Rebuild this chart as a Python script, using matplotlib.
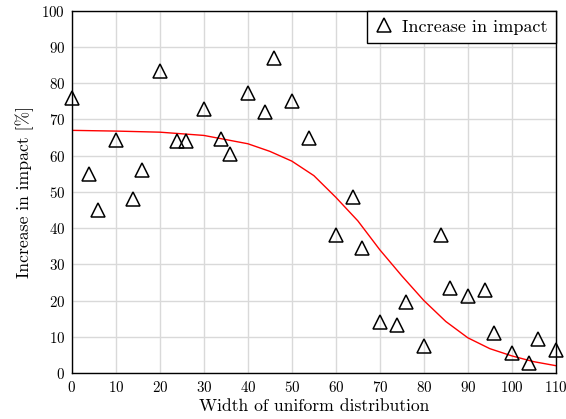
import numpy as np
import matplotlib.pyplot as plt

plt.rcParams['font.family'] = 'serif'
plt.rcParams['font.serif'] = ['cmr10']
plt.rcParams['mathtext.fontset'] = 'cm'
plt.rcParams['axes.formatter.use_mathtext'] = True

# Measured points
width = [0, 4, 6, 10, 14, 16, 20, 24, 26, 30, 34, 36, 40, 44, 46, 50, 54,
         60, 64, 66, 70, 74, 76, 80, 84, 86, 90, 94, 96, 100, 104, 106, 110]
increase = [76, 55, 45, 64.4, 48, 56, 83.4, 64, 64, 73, 64.6, 60.5, 77.3, 72, 87, 75, 65,
            38, 48.6, 34.5, 14, 13.3, 19.6, 7.5, 38, 23.5, 21.3, 23, 11, 5.5, 2.8, 9.4, 6.4]

# Fitted curve
fit_x = [0, 10, 20, 30, 40, 45, 50, 55, 60, 65, 70, 75, 80, 85, 90, 95, 100, 105, 110]
fit_y = [67, 66.8, 66.5, 65.6, 63.3, 61.2, 58.5, 54.5, 48.5, 42, 34, 26.8, 20, 14.2, 9.7, 6.7, 4.7, 3.1, 2]

fig = plt.figure(figsize=(5.66, 4.19), dpi=100)
ax = fig.add_axes([0.127, 0.11, 0.855, 0.864])

ax.plot(fit_x, fit_y, color='red', lw=1.0, zorder=2)
ax.plot(width, increase, linestyle='none', marker='^', markersize=10,
        markerfacecolor='none', markeredgecolor='black', markeredgewidth=1.1,
        label='Increase in impact', zorder=3, clip_on=False)

ax.set_xlim(0, 110)
ax.set_ylim(0, 100)
ax.set_xticks(range(0, 111, 10))
ax.set_yticks(range(0, 101, 10))
ax.grid(True, color='#d9d9d9', lw=1.0)
ax.set_axisbelow(True)
ax.tick_params(length=0, labelsize=10.8, pad=5)
for s in ax.spines.values():
    s.set_color('black')
    s.set_linewidth(1.0)

ax.set_xlabel('Width of uniform distribution', fontsize=12.7, labelpad=3)
ax.set_ylabel('Increase in impact [%]', fontsize=12.7, labelpad=5)

leg = ax.legend(loc='upper right', fontsize=13, fancybox=False, framealpha=1,
                edgecolor='black', borderaxespad=0, handlelength=1.0,
                handletextpad=0.5, borderpad=0.45)
leg.get_frame().set_linewidth(1.0)

fig.savefig('out.png', dpi=100)
